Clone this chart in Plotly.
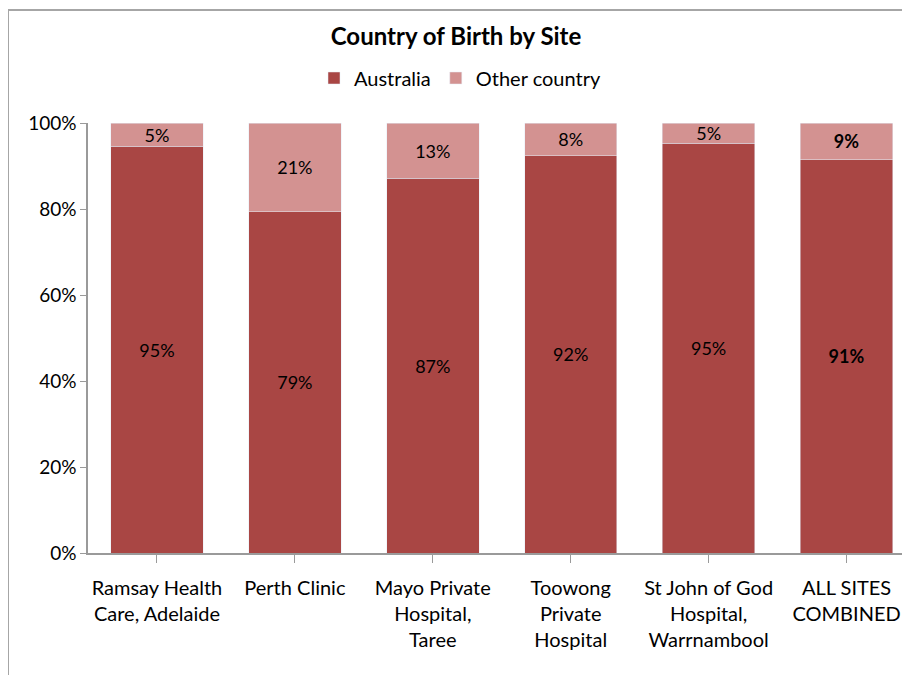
import plotly.graph_objects as go

sites = ["Ramsay Health<br>Care, Adelaide", "Perth Clinic", "Mayo Private<br>Hospital,<br>Taree",
         "Toowong<br>Private<br>Hospital", "St John of God<br>Hospital,<br>Warrnambool", "ALL SITES<br>COMBINED"]
australia = [94.6, 79.4, 87.2, 92.4, 95.3, 91.4]
other = [5.4, 20.6, 12.8, 7.6, 4.7, 8.6]
aus_labels = ["95%", "79%", "87%", "92%", "95%", "<b>91%</b>"]
oth_labels = ["5%", "21%", "13%", "8%", "5%", "<b>9%</b>"]
yticks = [0, 20, 40, 60, 80, 100]
ytick_text = ["0%", "20%", "40%", "60%", "80%", "100%"]

FONT = "Lato"
x = list(range(len(sites)))

# page body has an 8px margin: figure coords = screen coords - 8
L, T, B = 80, 115, 130
PH = 675 - T - B
PW = 902 - L

fig = go.Figure()
fig.add_trace(go.Bar(x=x, y=australia, name="Australia", marker_color="#A94644",
                     text=aus_labels, texttemplate="%{text}", textposition="inside",
                     insidetextanchor="middle", textangle=0, constraintext="none",
                     textfont=dict(family=FONT, size=18, color="black"), width=0.67))
fig.add_trace(go.Bar(x=x, y=other, name="Other country", marker_color="#D39291",
                     text=oth_labels, texttemplate="%{text}", textposition="inside",
                     insidetextanchor="middle", textangle=0, constraintext="none",
                     textfont=dict(family=FONT, size=18, color="black"), width=0.67))

fig.update_layout(
    barmode="stack",
    width=910, height=675,
    margin=dict(l=L, r=8, t=T, b=B),
    paper_bgcolor="white", plot_bgcolor="white",
    font=dict(family=FONT, size=19, color="black"),
    title=dict(text="<b>Country of Birth by Site</b>", x=(456 - 8) / 910, xanchor="center",
               y=1 - 29 / 675, yanchor="middle", font=dict(family=FONT, size=24, color="black")),
    legend=dict(orientation="h", x=(460 - 8 - L) / PW, xanchor="center",
                y=(675 - B - 70) / PH, yanchor="middle",
                font=dict(family=FONT, size=20), traceorder="normal", itemwidth=30),
    xaxis=dict(tickmode="array", tickvals=x, ticktext=sites, range=[-0.5, 5.46],
               showline=True, linecolor="#9a9a9a", linewidth=1.5,
               ticks="outside", ticklen=8, tickcolor="#9a9a9a", tickson="boundaries",
               ticklabelstandoff=8,
               showgrid=False, zeroline=False, tickfont=dict(family=FONT, size=20),
               automargin=False),
    yaxis=dict(range=[0, 100], tickvals=yticks, ticktext=ytick_text,
               showline=True, linecolor="#9a9a9a", linewidth=1.5,
               ticks="outside", ticklen=6, tickcolor="#9a9a9a",
               showgrid=False, zeroline=False, tickfont=dict(family=FONT, size=19),
               automargin=False),
    shapes=[dict(type="rect", xref="paper", yref="paper",
                 x0=(0 - L) / PW, x1=1.05, y0=-0.35, y1=(675 - B - 2) / PH,
                 line=dict(color="#a6a6a6", width=2), fillcolor="rgba(0,0,0,0)", layer="below")],
)

fig.write_html("out.html")
